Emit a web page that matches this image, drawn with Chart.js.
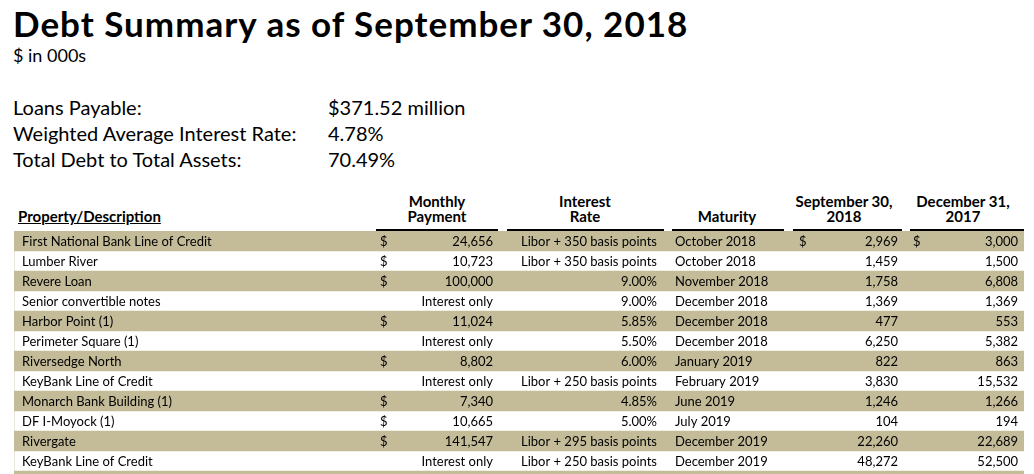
<!DOCTYPE html>
<html>
<head>
<meta charset="utf-8">
<script src="https://cdn.jsdelivr.net/npm/chart.js@4.4.1/dist/chart.umd.min.js"></script>
<style>
    html, body { margin: 0; padding: 0; background: #fff; overflow: hidden; }
    body { width: 1034px; height: 474px; position: relative; font-family: Lato, Carlito, Calibri, sans-serif; color: #000; }
    .txt { position: absolute; white-space: nowrap; }
    #titulo { left: 13px; top: 6px; font-size: 35px; line-height: 35px; font-weight: bold; letter-spacing: 1px; }
    #subtitulo { left: 13px; top: 46px; font-size: 18px; line-height: 18px; }
    .resumo { font-size: 20px; line-height: 20px; }
    .cab { font-size: 15px; line-height: 15px; font-weight: bold; text-align: center; }
    #grafico { position: absolute; left: 0; top: 0; }
</style>
</head>
<body>
<div id="titulo" class="txt">Debt Summary as of September 30, 2018</div>
<div id="subtitulo" class="txt">$ in 000s</div>
<div id="resumo"></div>
<div id="cabecalho"></div>
<canvas id="grafico" width="1034" height="500"></canvas>
<script>
// Resumo no topo
const resumoRotulos = ['Loans Payable:', 'Weighted Average Interest Rate:', 'Total Debt to Total Assets:'];
const resumoValores = ['$371.52 million', '4.78%', '70.49%'];

// Colunas da tabela
const descricoes = [
    'First National Bank Line of Credit', 'Lumber River', 'Revere Loan', 'Senior convertible notes',
    'Harbor Point (1)', 'Perimeter Square (1)', 'Riversedge North', 'KeyBank Line of Credit',
    'Monarch Bank Building (1)', 'DF I-Moyock (1)', 'Rivergate', 'KeyBank Line of Credit'
];
// null = "Interest only"
const pagamentosMensais = [24656, 10723, 100000, null, 11024, null, 8802, null, 7340, 10665, 141547, null];
const taxasJuros = [
    'Libor + 350 basis points', 'Libor + 350 basis points', '9.00%', '9.00%', '5.85%', '5.50%',
    '6.00%', 'Libor + 250 basis points', '4.85%', '5.00%', 'Libor + 295 basis points', 'Libor + 250 basis points'
];
const vencimentos = [
    'October 2018', 'October 2018', 'November 2018', 'December 2018', 'December 2018', 'December 2018',
    'January 2019', 'February 2019', 'June 2019', 'July 2019', 'December 2019', 'December 2019'
];
const saldosSet2018 = [2969, 1459, 1758, 1369, 477, 6250, 822, 3830, 1246, 104, 22260, 48272];
const saldosDez2017 = [3000, 1500, 6808, 1369, 553, 5382, 863, 15532, 1266, 194, 22689, 52500];

const cabecalhos = [
    { texto: 'Monthly<br>Payment', centro: 437, top: 194 },
    { texto: 'Interest<br>Rate', centro: 585, top: 194 },
    { texto: 'Maturity', centro: 727, top: 209 },
    { texto: 'September 30,<br>2018', centro: 844, top: 194 },
    { texto: 'December 31,<br>2017', centro: 963, top: 194 }
];
const linhasCabecalho = [[376, 498], [507, 664], [672, 784], [793, 902], [910, 1024]];

// monta o texto do topo
const resumoDiv = document.getElementById('resumo');
resumoRotulos.forEach((rotulo, i) => {
    const top = 97 + i * 26;
    resumoDiv.insertAdjacentHTML('beforeend',
        `<div class="txt resumo" style="left:13px;top:${top}px">${rotulo}</div>` +
        `<div class="txt resumo" style="left:328px;top:${top}px">${resumoValores[i]}</div>`);
});

const cabDiv = document.getElementById('cabecalho');
cabDiv.insertAdjacentHTML('beforeend',
    '<div class="txt cab" style="left:18px;top:209px;text-align:left;text-decoration:underline">Property/Description</div>');
cabecalhos.forEach(c => {
    cabDiv.insertAdjacentHTML('beforeend',
        `<div class="txt cab" style="left:${c.centro - 70}px;width:140px;top:${c.top}px">${c.texto}</div>`);
});

function fmt(n) {
    return n.toLocaleString('en-US');
}

// linhas da tabela (uma linha extra cortada no fim)
const rotulosLinhas = descricoes.map((d, i) => String(i)).concat(['']);
const faixas = rotulosLinhas.map((r, i) => i % 2 === 0 ? 1 : 0);

const pluginTabela = {
    id: 'tabela',
    afterDatasetsDraw(chart) {
        const ctx = chart.ctx;
        const yScale = chart.scales.y;
        const topo = chart.chartArea.top;

        ctx.save();
        // linhas grossas sob o cabeçalho
        ctx.strokeStyle = '#000';
        ctx.lineWidth = 2;
        linhasCabecalho.forEach(l => {
            ctx.beginPath();
            ctx.moveTo(l[0], topo - 1);
            ctx.lineTo(l[1], topo - 1);
            ctx.stroke();
        });

        ctx.fillStyle = '#000';
        ctx.font = '13px Lato, Carlito, Calibri, sans-serif';
        ctx.textBaseline = 'alphabetic';
        descricoes.forEach((desc, i) => {
            const y = yScale.getPixelForValue(i) + 5;

            ctx.textAlign = 'left';
            ctx.fillText(desc, 22, y);

            if (pagamentosMensais[i] === null) {
                ctx.textAlign = 'right';
                ctx.fillText('Interest only', 493, y);
            } else {
                ctx.textAlign = 'left';
                ctx.fillText('$', 380, y);
                ctx.textAlign = 'right';
                ctx.fillText(fmt(pagamentosMensais[i]), 493, y);
            }

            ctx.textAlign = 'right';
            ctx.fillText(taxasJuros[i], 657, y);

            ctx.textAlign = 'left';
            ctx.fillText(vencimentos[i], 675, y);

            if (i === 0) {
                ctx.fillText('$', 799, y);
                ctx.fillText('$', 913, y);
            }
            ctx.textAlign = 'right';
            ctx.fillText(fmt(saldosSet2018[i]), 898, y);
            ctx.fillText(fmt(saldosDez2017[i]), 1018, y);
        });
        ctx.restore();
    }
};

const ctxGrafico = document.getElementById('grafico').getContext('2d');
const grafico = new Chart(ctxGrafico, {
    type: 'bar',
    data: {
        labels: rotulosLinhas,
        datasets: [{
            data: faixas,
            backgroundColor: '#c4bb98',
            borderWidth: 0,
            barPercentage: 1,
            categoryPercentage: 1
        }]
    },
    options: {
        indexAxis: 'y',
        responsive: false,
        animation: false,
        layout: {
            padding: { top: 231, left: 14, right: 10, bottom: 9 }
        },
        plugins: {
            legend: { display: false },
            tooltip: { enabled: false }
        },
        scales: {
            x: { display: false, min: 0, max: 1 },
            y: { display: false }
        }
    },
    plugins: [pluginTabela]
});
</script>
</body>
</html>
